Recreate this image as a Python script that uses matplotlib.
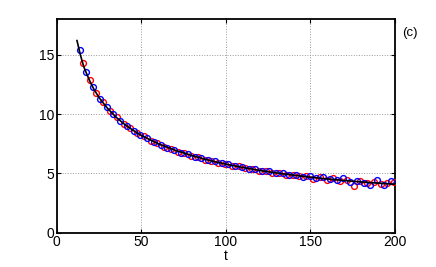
import matplotlib
matplotlib.use("Agg")
import matplotlib.pyplot as plt

# Black fitted line
line_t = [12, 14, 16, 18, 20, 22, 25, 28, 30, 35, 40, 45, 50, 60, 70, 80, 90,
          100, 110, 120, 130, 140, 150, 160, 170, 180, 190, 200]
line_y = [16.2, 15.0, 14.0, 13.3, 12.65, 12.1, 11.4, 10.85, 10.5, 9.75, 9.15,
          8.65, 8.2, 7.5, 6.95, 6.5, 6.1, 5.78, 5.5, 5.25, 5.04, 4.85, 4.68,
          4.53, 4.4, 4.28, 4.18, 4.08]

# Blue circles
blue_t = [13.5, 17.5, 21.5, 25.5, 29.5, 33.5, 37.5, 41.5, 45.5, 49.5, 53.5,
          57.5, 61.5, 65.5, 69.5, 73.5, 77.5, 81.5, 85.5, 89.5, 93.5, 97.5,
          101.5, 105.5, 109.5, 113.5, 117.5, 121.5, 125.5, 129.5, 133.5, 137.5,
          141.5, 145.5, 149.5, 153.5, 157.5, 161.5, 165.5, 169.5, 173.5, 177.5,
          181.5, 185.5, 189.5, 193.5, 197.5]
blue_y = [15.4, 13.55, 12.3, 11.3, 10.62, 9.98, 9.42, 9.03, 8.6, 8.22, 7.98,
          7.63, 7.42, 7.15, 6.99, 6.75, 6.62, 6.4, 6.32, 6.1, 6.03, 5.84,
          5.78, 5.6, 5.55, 5.38, 5.35, 5.19, 5.16, 5.02, 5.0, 4.86, 4.85,
          4.72, 4.78, 4.6, 4.7, 4.55, 4.42, 4.58, 4.3, 4.4, 4.2, 4.05, 4.45,
          4.02, 4.35]

# Red circles
red_t = [15.5, 19.5, 23.5, 27.5, 31.5, 35.5, 39.5, 43.5, 47.5, 51.5, 55.5,
         59.5, 63.5, 67.5, 71.5, 75.5, 79.5, 83.5, 87.5, 91.5, 95.5, 99.5,
         103.5, 107.5, 111.5, 115.5, 119.5, 123.5, 127.5, 131.5, 135.5, 139.5,
         143.5, 147.5, 151.5, 155.5, 159.5, 163.5, 167.5, 171.5, 175.5, 179.5,
         183.5, 187.5, 191.5, 195.5, 199.5]
red_y = [14.35, 12.9, 11.82, 11.02, 10.28, 9.72, 9.18, 8.82, 8.38, 8.12, 7.77,
         7.55, 7.26, 7.09, 6.84, 6.7, 6.49, 6.38, 6.16, 6.07, 5.88, 5.82,
         5.64, 5.6, 5.43, 5.39, 5.23, 5.2, 5.06, 5.04, 4.9, 4.88, 4.74, 4.76,
         4.55, 4.66, 4.45, 4.58, 4.35, 4.47, 3.96, 4.35, 4.15, 4.3, 4.08,
         4.22, 4.3]

x_ticks = [0, 50, 100, 150, 200]
y_ticks = [0, 5, 10, 15]

plt.rcParams['font.family'] = ['Liberation Sans', 'DejaVu Sans']

fig = plt.figure(figsize=(4.36, 2.67), dpi=100)
ax = fig.add_axes([0.130, 0.1285, 0.776, 0.7995])

ax.plot(red_t, red_y, 'o', mfc='none', mec=(1, 0, 0), ms=4.2, mew=1.0, zorder=3)
ax.plot(blue_t, blue_y, 'o', mfc='none', mec=(0, 0, 1), ms=4.2, mew=1.0, zorder=4)
ax.plot(line_t, line_y, '-', color='black', lw=1.2, zorder=5)

ax.set_xlim(0, 200)
ax.set_ylim(0, 18)
ax.set_xticks(x_ticks)
ax.set_yticks(y_ticks)
ax.grid(True, linestyle=':', color='#999999', lw=0.7)
ax.tick_params(direction='in', length=3, width=0.8, labelsize=10,
               top=True, right=True, pad=2)
for s in ax.spines.values():
    s.set_linewidth(1.3)
ax.set_xlabel('t', fontsize=10, labelpad=0)
fig.text(0.923, 0.865, '(c)', fontsize=9.5)

fig.savefig('out.png', dpi=100)
